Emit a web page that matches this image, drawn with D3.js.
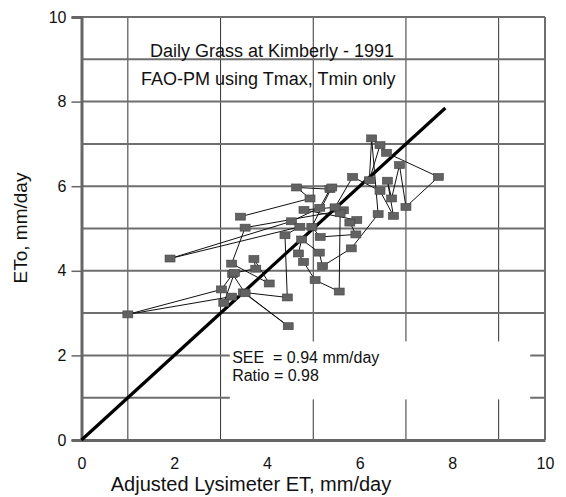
<!DOCTYPE html>
<html>
<head>
<meta charset="utf-8">
<script src="https://cdn.jsdelivr.net/npm/d3@7"></script>
<style>
  body { margin: 0; background: #fff; }
  text { font-family: "Liberation Sans", Arial, sans-serif; fill: #111; }
</style>
</head>
<body>
<div id="chart"></div>
<script>
// daily values, in day order (lines join consecutive days)
var lysimeterET = [3.43, 4.93, 4.64, 5.36, 5.14, 4.53, 1.91, 4.71, 4.39, 4.44,
    3.49, 4.46, 3.53, 3.26, 3.02, 1.00, 3.24, 3.07, 3.30, 3.76,
    3.72, 4.05, 3.24, 3.53, 5.65, 5.58, 5.56, 5.04, 4.79, 4.68,
    4.75, 5.13, 5.20, 5.82, 6.40, 6.26, 6.21, 6.44, 6.58, 7.70,
    7.00, 6.86, 6.69, 6.60, 6.73, 6.44, 5.85, 5.47, 4.80, 5.94,
    5.79, 5.92, 5.15, 4.97, 5.40];
var etoPM = [5.28, 5.71, 5.97, 5.93, 5.49, 5.17, 4.29, 5.04, 4.84, 3.37,
    3.49, 2.69, 3.47, 3.92, 3.56, 2.97, 3.39, 3.24, 3.95, 4.05,
    4.28, 3.70, 4.17, 5.02, 5.43, 5.36, 3.51, 3.78, 4.21, 4.41,
    4.74, 4.43, 4.11, 4.53, 5.34, 7.13, 6.14, 6.97, 6.79, 6.22,
    5.51, 6.50, 5.71, 6.13, 5.30, 5.89, 6.22, 5.50, 5.44, 5.20,
    5.14, 4.86, 4.80, 5.04, 5.97];

var xTicks = [0, 2, 4, 6, 8, 10];
var yTicks = [0, 2, 4, 6, 8, 10];
var vGrid = [1, 3, 5, 7, 9];
var hGrid = [1, 2, 3, 4, 5, 6, 7, 8, 9, 10];
var oneToOne = [0, 7.85];
var titleLines = ["Daily Grass at Kimberly - 1991", "FAO-PM using Tmax, Tmin only"];
var statLines = ["SEE  = 0.94 mm/day", "Ratio = 0.98"];

var margin = { top: 17, right: 21, bottom: 57, left: 81.5 },
    width = 566 - margin.left - margin.right,
    height = 497 - margin.top - margin.bottom;

var svg = d3.select("#chart")
    .append("svg")
    .attr("width", 566)
    .attr("height", 497)
    .append("g")
    .attr("transform", "translate(" + margin.left + "," + margin.top + ")");

var x = d3.scaleLinear().domain([0, 10]).range([0, width]);
var y = d3.scaleLinear().domain([0, 10]).range([height, 0]);

// vertical grid (thin, dark)
svg.selectAll(".vgrid")
    .data(vGrid)
    .enter().append("line")
    .attr("class", "vgrid")
    .attr("x1", d => x(d)).attr("x2", d => x(d))
    .attr("y1", 0).attr("y2", height)
    .attr("stroke", "#333")
    .attr("stroke-width", 1);

// horizontal grid (thicker, grey)
svg.selectAll(".hgrid")
    .data(hGrid)
    .enter().append("line")
    .attr("class", "hgrid")
    .attr("x1", 0).attr("x2", width)
    .attr("y1", d => y(d)).attr("y2", d => y(d))
    .attr("stroke", "#6e6e6e")
    .attr("stroke-width", 2);

// right border
svg.append("line")
    .attr("x1", width).attr("x2", width)
    .attr("y1", 0).attr("y2", height)
    .attr("stroke", "#6e6e6e")
    .attr("stroke-width", 2);

// white box behind the stats
svg.append("rect")
    .attr("x", x(3.2))
    .attr("y", y(2.33))
    .attr("width", x(9.68) - x(3.2))
    .attr("height", y(0.96) - y(2.33))
    .attr("fill", "#fff");

// axes
var yAxis = svg.append("g")
    .call(d3.axisLeft(y).tickValues(yTicks).tickSize(10).tickPadding(5).tickFormat(d3.format("d")));
var xAxis = svg.append("g")
    .attr("transform", "translate(0," + height + ")")
    .call(d3.axisBottom(x).tickValues(xTicks).tickSize(0).tickPadding(18).tickFormat(d3.format("d")));

[xAxis, yAxis].forEach(function (a) {
    a.select(".domain").attr("stroke", "#666").attr("stroke-width", 3);
    a.selectAll(".tick line").attr("stroke", "#666").attr("stroke-width", 1.5);
    a.selectAll(".tick text")
        .style("font-family", "'Liberation Sans', Arial, sans-serif")
        .style("font-size", "16px")
        .attr("fill", "#111");
});

// 1:1 line
svg.append("line")
    .attr("x1", x(oneToOne[0])).attr("y1", y(oneToOne[0]))
    .attr("x2", x(oneToOne[1])).attr("y2", y(oneToOne[1]))
    .attr("stroke", "#000")
    .attr("stroke-width", 3.2);

var days = lysimeterET.map(function (d, i) { return { lys: d, eto: etoPM[i] }; });

svg.append("path")
    .datum(days)
    .attr("fill", "none")
    .attr("stroke", "#111")
    .attr("stroke-width", 1)
    .attr("d", d3.line().x(d => x(d.lys)).y(d => y(d.eto)));

svg.selectAll(".pt")
    .data(days)
    .enter().append("rect")
    .attr("class", "pt")
    .attr("x", d => x(d.lys) - 5)
    .attr("y", d => y(d.eto) - 3.5)
    .attr("width", 10)
    .attr("height", 7)
    .attr("fill", "#626262")
    .attr("stroke", "#454545")
    .attr("stroke-width", 0.6);

// title lines
svg.selectAll(".title")
    .data(titleLines)
    .enter().append("text")
    .attr("class", "title")
    .attr("x", (d, i) => i === 0 ? 68.5 : 59.5)
    .attr("y", (d, i) => 39.7 + i * 28.3)
    .style("font-size", "18px")
    .text(d => d);

// stats
svg.selectAll(".stat")
    .data(statLines)
    .enter().append("text")
    .attr("class", "stat")
    .attr("x", x(3.25))
    .attr("y", (d, i) => y(1.82) + i * 18.4)
    .style("font-size", "16px")
    .style("white-space", "pre")
    .text(d => d);

// axis titles
svg.append("text")
    .attr("text-anchor", "middle")
    .attr("x", 169.5)
    .attr("y", height + 51)
    .style("font-size", "20px")
    .text("Adjusted Lysimeter ET, mm/day");

svg.append("text")
    .attr("text-anchor", "middle")
    .attr("transform", "rotate(-90)")
    .attr("x", -(228 - margin.top))
    .attr("y", 27 - margin.left)
    .style("font-size", "19px")
    .text("ETo, mm/day");
</script>
</body>
</html>
